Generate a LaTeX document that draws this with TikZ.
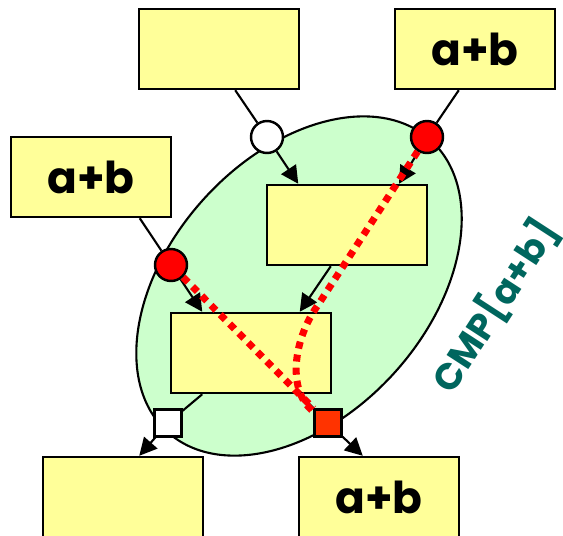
\documentclass[tikz,border=0pt]{standalone}
\usepackage{fontspec}
\setmainfont{Poppins}
\usetikzlibrary{arrows.meta,calc,shapes.geometric}
\definecolor{boxyellow}{RGB}{255,255,153}
\definecolor{zonegreen}{RGB}{204,255,204}
\definecolor{sqred}{RGB}{255,51,0}
\definecolor{cmpteal}{RGB}{0,102,94}
\begin{document}
\begin{tikzpicture}[x=0.02cm, y=-0.02cm,
  every node/.style={font=\bfseries\fontsize{25}{30}\selectfont},
  vbox/.style={rectangle, draw, line width=1.4pt, fill=boxyellow, minimum width=3.2cm, minimum height=1.6cm, inner sep=0pt},
  port/.style={circle, draw, line width=1.4pt, minimum size=0.64cm, inner sep=0pt},
  outport/.style={rectangle, draw, line width=1.2pt, minimum size=0.54cm, inner sep=0pt},
  edge/.style={line width=1.2pt},
  flow/.style={edge, -{Triangle[length=10pt,width=10pt]}},
  trace/.style={red, line width=4pt, dash pattern=on 4pt off 3.5pt}]
  \useasboundingbox (0,0) rectangle (563,535);
  % compound region
  \node[ellipse, draw, line width=1.2pt, fill=zonegreen, minimum width=7.86cm, minimum height=5.16cm, rotate=48] (cmp) at (299,286) {};
  \node[rotate=57, text=cmpteal, font=\bfseries\fontsize{21}{24}\selectfont] (cmplbl) at (495,306) {CMP[a+b]};
  % value boxes
  \node[vbox] (tm) at (219,49) {};
  \node[vbox] (tr) at (475,49) {a+b};
  \node[vbox] (lf) at (91,177) {a+b};
  \node[vbox] (inA) at (347,225) {};
  \node[vbox] (inB) at (251,353) {};
  \node[vbox] (bl) at (123,497) {};
  \node[vbox] (br) at (379,497) {a+b};
  % ports
  \node[port, fill=white] (wc) at (267,137) {};
  \node[port, fill=red] (rc1) at (427,137) {};
  \node[port, fill=red] (rc2) at (171,265) {};
  \node[outport, fill=white] (ws) at (168,423) {};
  \node[outport, fill=sqred] (rs) at (328,423) {};
  \draw[edge] ($(tm.south west)!0.6!(tm.south east)$) -- (wc);
  \draw[flow] (wc) -- ($(inA.north west)!0.2!(inA.north east)$);
  \draw[edge] ($(tr.south west)!0.4!(tr.south east)$) -- (rc1);
  \draw[flow] (rc1) -- ($(inA.north west)!0.82!(inA.north east)$);
  \draw[edge] ($(lf.south west)!0.8!(lf.south east)$) -- (rc2);
  \draw[flow] (rc2) -- ($(inB.north west)!0.2!(inB.north east)$);
  \draw[flow] ($(inA.south west)!0.4!(inA.south east)$) -- ($(inB.north west)!0.8!(inB.north east)$);
  \draw[edge] ($(inB.south west)!0.2!(inB.south east)$) -- (ws);
  \draw[flow] (ws) -- ($(bl.north west)!0.6!(bl.north east)$);
  \draw[edge] ($(inB.south west)!0.8!(inB.south east)$) -- (rs);
  \draw[flow] (rs) -- ($(br.north west)!0.4!(br.north east)$);
  % red traces
  \coordinate (bend) at (318,305);
  \draw[trace] (rc2) -- (rs);
  \draw[trace] (rc1) -- (bend) .. controls (294,338) and (286,390) .. (rs);
\end{tikzpicture}
\end{document}
